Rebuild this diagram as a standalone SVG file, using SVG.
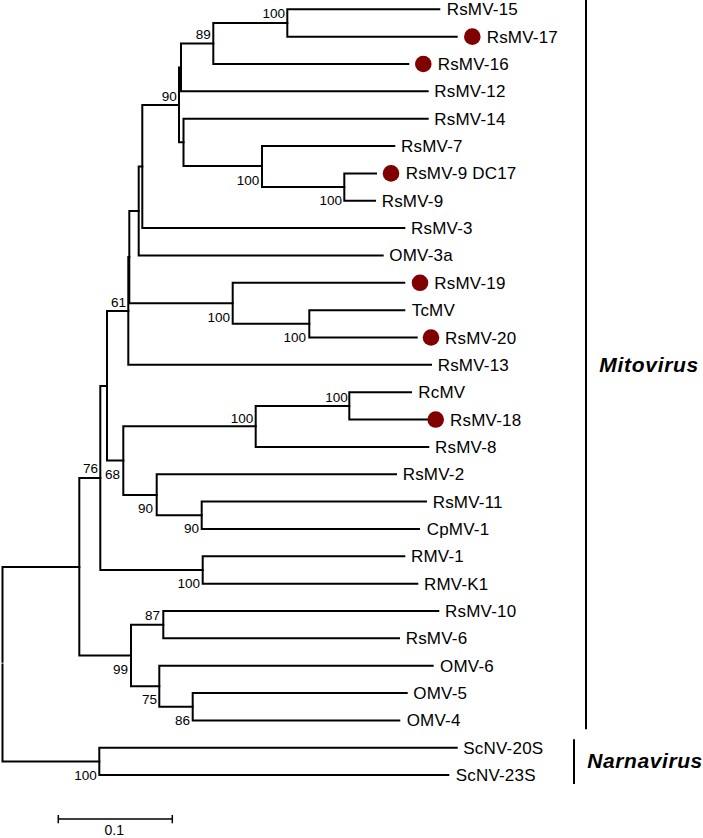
<svg xmlns="http://www.w3.org/2000/svg" width="703" height="838" viewBox="0 0 703 838">
<style>
.br{fill:none;stroke:#000;stroke-width:2;stroke-linecap:square;stroke-linejoin:miter}
.lf{font-family:"Liberation Sans",Arial,sans-serif;font-size:17px;letter-spacing:0.2px;fill:#000}
.bs{font-family:"Liberation Sans",Arial,sans-serif;font-size:13.5px;fill:#000;text-anchor:end}
.dot{fill:#800000}
.grp{font-family:"Liberation Sans",Arial,sans-serif;font-size:21px;font-weight:bold;font-style:italic;fill:#000}
.bar{fill:none;stroke:#000;stroke-width:2}
</style>
<rect width="703" height="838" fill="#fff"/>
<g id="connectors">
<path class="br" d="M439.3,9.3 H287.3 V36.65 H456.7"/>
<path class="br" d="M287.3,23 H213.3 V64 H408.3"/>
<path class="br" d="M213.3,43.5 H181 V91.35 H427.7"/>
<path class="br" d="M181,67.4 H179 V142.35 H183.5"/>
<path class="br" d="M262,166 H183.5 V118.7 H427.7"/>
<path class="br" d="M344.3,187 H262 V146.05 H394.3"/>
<path class="br" d="M376,173.4 H344.3 V200.75 H375"/>
<path class="br" d="M179,104.9 H142.3 V228.1 H404.3"/>
<path class="br" d="M142.3,166.5 H138.7 V255.45 H382.7"/>
<path class="br" d="M138.7,211 H129.3 V303.3 H232.7"/>
<path class="br" d="M129.3,257 H128.3 V364.85 H431"/>
<path class="br" d="M128.3,311 H107 V460.6 H123.3"/>
<path class="br" d="M404.3,282.8 H232.7 V323.8 H309.3"/>
<path class="br" d="M404.3,310.15 H309.3 V337.5 H416.7"/>
<path class="br" d="M107,386 H100.3 V570 H202.7"/>
<path class="br" d="M255.7,426.2 H123.3 V495 H156.7"/>
<path class="br" d="M349.3,405.9 H255.7 V446.9 H428.3"/>
<path class="br" d="M411,392.2 H349.3 V419.55 H427.3"/>
<path class="br" d="M396,474.25 H156.7 V515.3 H201.7"/>
<path class="br" d="M426,501.6 H201.7 V528.95 H419"/>
<path class="br" d="M404.3,556.3 H202.7 V583.65 H417.3"/>
<path class="br" d="M100.3,478 H79.3 V655.6 H131"/>
<path class="br" d="M163.3,624.7 H131 V686.2 H159.3"/>
<path class="br" d="M438.3,611 H163.3 V638.35 H399"/>
<path class="br" d="M432.7,665.7 H159.3 V706.7 H192.7"/>
<path class="br" d="M406.7,693.05 H192.7 V720.4 H399.3"/>
<path class="br" d="M79.3,567 H2.5 V661.7"/>
<path class="br" d="M2.5,664.5 V761.4 H99.3"/>
<path class="br" d="M456.7,747.75 H99.3 V775.1 H448.3"/>
</g>
<g id="bootstrap">
<text class="bs" x="285" y="18.3">100</text>
<text class="bs" x="210.7" y="39">89</text>
<text class="bs" x="176.7" y="100.5">90</text>
<text class="bs" x="259.3" y="185">100</text>
<text class="bs" x="342" y="205">100</text>
<text class="bs" x="126" y="306.7">61</text>
<text class="bs" x="230" y="321.7">100</text>
<text class="bs" x="306" y="341.7">100</text>
<text class="bs" x="347.7" y="401.7">100</text>
<text class="bs" x="253.3" y="422.7">100</text>
<text class="bs" x="98" y="473">76</text>
<text class="bs" x="120" y="479">68</text>
<text class="bs" x="153" y="513">90</text>
<text class="bs" x="199" y="533">90</text>
<text class="bs" x="200" y="588">100</text>
<text class="bs" x="160" y="620">87</text>
<text class="bs" x="128" y="674">99</text>
<text class="bs" x="157" y="704">75</text>
<text class="bs" x="190" y="725">86</text>
<text class="bs" x="96.7" y="780">100</text>
</g>
<g id="leaf-RsMV-15"><text class="lf" x="446.7" y="15.3">RsMV-15</text></g>
<g id="leaf-RsMV-17"><circle class="dot" cx="472.3" cy="36.65" r="8.3"/><text class="lf" x="486.7" y="42.6">RsMV-17</text></g>
<g id="leaf-RsMV-16"><circle class="dot" cx="423.3" cy="64" r="8.3"/><text class="lf" x="437.7" y="70">RsMV-16</text></g>
<g id="leaf-RsMV-12"><text class="lf" x="434.3" y="97.3">RsMV-12</text></g>
<g id="leaf-RsMV-14"><text class="lf" x="434.3" y="124.7">RsMV-14</text></g>
<g id="leaf-RsMV-7"><text class="lf" x="401" y="152">RsMV-7</text></g>
<g id="leaf-RsMV-9-DC17"><circle class="dot" cx="391" cy="173.4" r="8.3"/><text class="lf" x="405.7" y="179.4">RsMV-9 DC17</text></g>
<g id="leaf-RsMV-9"><text class="lf" x="381.7" y="206.7">RsMV-9</text></g>
<g id="leaf-RsMV-3"><text class="lf" x="411" y="234.1">RsMV-3</text></g>
<g id="leaf-OMV-3a"><text class="lf" x="389.3" y="261.4">OMV-3a</text></g>
<g id="leaf-RsMV-19"><circle class="dot" cx="420" cy="282.8" r="8.3"/><text class="lf" x="434.3" y="288.8">RsMV-19</text></g>
<g id="leaf-TcMV"><text class="lf" x="411.7" y="316.1">TcMV</text></g>
<g id="leaf-RsMV-20"><circle class="dot" cx="431" cy="337.5" r="8.3"/><text class="lf" x="445" y="343.5">RsMV-20</text></g>
<g id="leaf-RsMV-13"><text class="lf" x="437.7" y="370.8">RsMV-13</text></g>
<g id="leaf-RcMV"><text class="lf" x="418.3" y="398.2">RcMV</text></g>
<g id="leaf-RsMV-18"><circle class="dot" cx="435.7" cy="419.55" r="8.3"/><text class="lf" x="450" y="425.5">RsMV-18</text></g>
<g id="leaf-RsMV-8"><text class="lf" x="435" y="452.9">RsMV-8</text></g>
<g id="leaf-RsMV-2"><text class="lf" x="402.7" y="480.2">RsMV-2</text></g>
<g id="leaf-RsMV-11"><text class="lf" x="432.7" y="507.6">RsMV-11</text></g>
<g id="leaf-CpMV-1"><text class="lf" x="426.7" y="534.9">CpMV-1</text></g>
<g id="leaf-RMV-1"><text class="lf" x="411" y="562.3">RMV-1</text></g>
<g id="leaf-RMV-K1"><text class="lf" x="424" y="589.6">RMV-K1</text></g>
<g id="leaf-RsMV-10"><text class="lf" x="445" y="617">RsMV-10</text></g>
<g id="leaf-RsMV-6"><text class="lf" x="405.7" y="644.3">RsMV-6</text></g>
<g id="leaf-OMV-6"><text class="lf" x="440" y="671.7">OMV-6</text></g>
<g id="leaf-OMV-5"><text class="lf" x="413.3" y="699">OMV-5</text></g>
<g id="leaf-OMV-4"><text class="lf" x="406.7" y="726.4">OMV-4</text></g>
<g id="leaf-ScNV-20S"><text class="lf" x="463.3" y="753.7">ScNV-20S</text></g>
<g id="leaf-ScNV-23S"><text class="lf" x="455.7" y="781.1">ScNV-23S</text></g>
<g id="group-Mitovirus">
<path class="bar" d="M586,0 V729.3"/>
<text class="grp" x="599.3" y="371.7" textLength="99" lengthAdjust="spacing">Mitovirus</text>
</g>
<g id="group-Narnavirus">
<path class="bar" d="M574,739.3 V784"/>
<text class="grp" x="587.3" y="768" textLength="115" lengthAdjust="spacing">Narnavirus</text>
</g>
<g id="scale-bar">
<path fill="none" stroke="#000" stroke-width="1.5" d="M58.3,819 H172.3 M58.3,815 V823.3 M172.3,815 V823.3"/>
<text x="114.2" y="834.5" text-anchor="middle" style="font-family:'Liberation Sans',Arial,sans-serif;font-size:14px">0.1</text>
</g>
</svg>
